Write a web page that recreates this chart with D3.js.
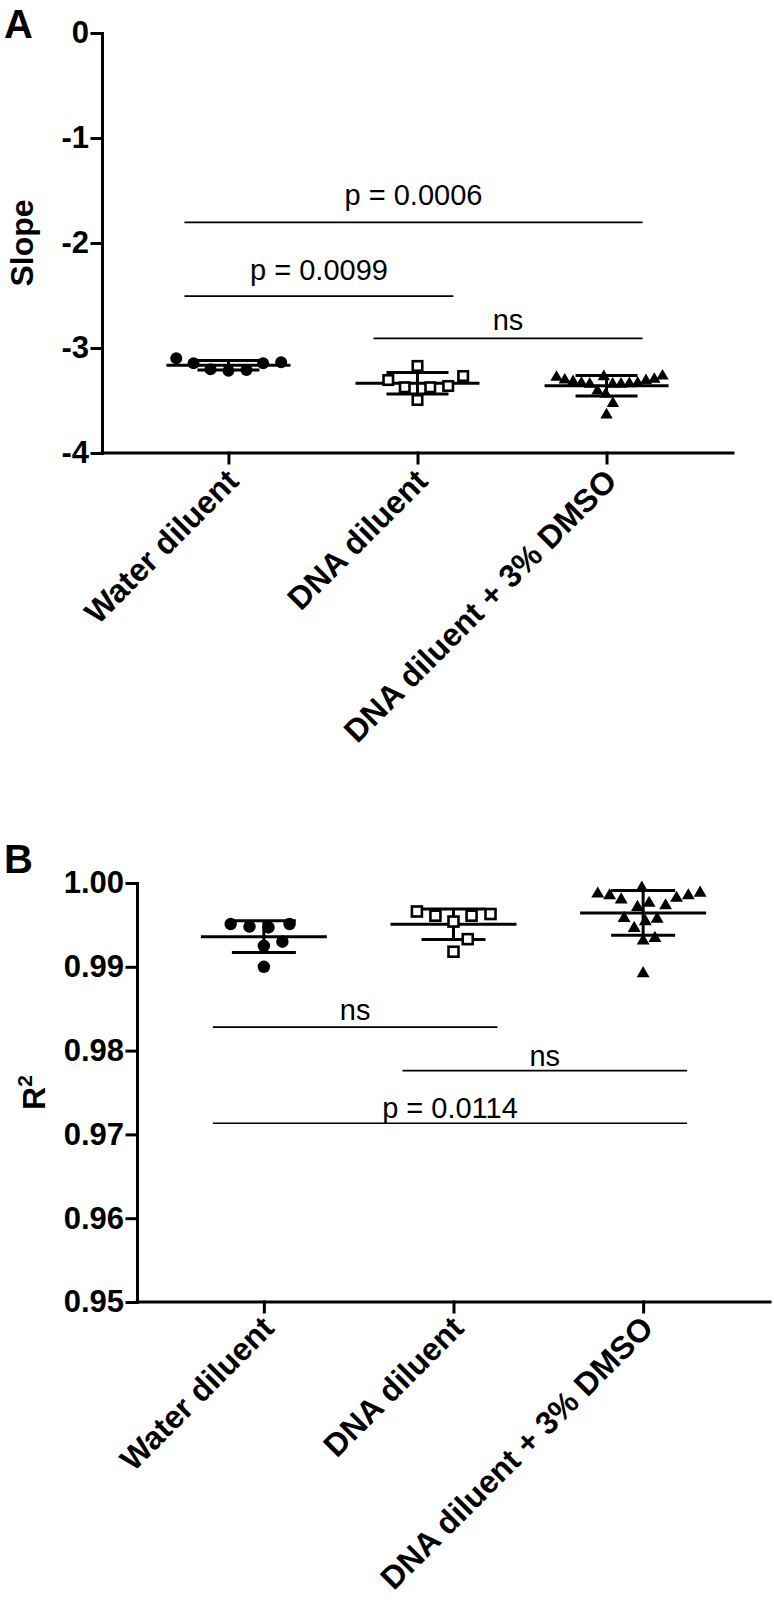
<!DOCTYPE html>
<html>
<head>
<meta charset="utf-8">
<script src="https://cdn.jsdelivr.net/npm/d3@7"></script>
<style>
  body { margin: 0; background: #fff; }
</style>
</head>
<body>
<script>
"use strict";

// categories
var groups = ["Water diluent", "DNA diluent", "DNA diluent + 3% DMSO"];

// panel A : slopes
var slopeWater = [-3.098, -3.146, -3.203, -3.216, -3.210, -3.146, -3.136];
var slopeDna = [-3.374, -3.267, -3.495, -3.305, -3.374, -3.171, -3.362];
var slopeDmso = [-3.279, -3.298, -3.311, -3.321, -3.345, -3.345, -3.335, -3.340, -3.335,
                 -3.345, -3.305, -3.273, -3.267, -3.410, -3.440, -3.527, -3.638];
var slopeTicks = [0, -1, -2, -3, -4];
var slopeComps = [
  { from: 0, to: 2, y: -1.803, labelY: -1.638, label: "p = 0.0006" },
  { from: 0, to: 1, y: -2.505, labelY: -2.352, label: "p = 0.0099" },
  { from: 1, to: 2, y: -2.908, labelY: -2.829, label: "ns" }
];

// panel B : R squared
var r2Water = [0.9951, 0.9947, 0.9948, 0.9951, 0.9930, 0.9925, 0.9900];
var r2Dna = [0.9963, 0.9961, 0.9954, 0.9961, 0.9966, 0.9933, 0.9918];
var r2Dmso = [0.9994, 0.9976, 0.9971, 0.9985, 0.9985, 0.9982, 0.9987, 0.9980, 0.9988,
              0.9973, 0.9954, 0.9957, 0.9958, 0.9946, 0.9934, 0.9931, 0.9892];
var r2Ticks = [1.00, 0.99, 0.98, 0.97, 0.96, 0.95];
var r2Comps = [
  { from: 0, to: 1, y: 0.9828, labelY: 0.98367, label: "ns" },
  { from: 1, to: 2, y: 0.9776, labelY: 0.97817, label: "ns" },
  { from: 0, to: 2, y: 0.97133, labelY: 0.97196, label: "p = 0.0114" }
];

var FONT = "'Liberation Sans', Arial, Helvetica, sans-serif";
var shapes = ["circle", "square", "triangle"];

var svg = d3.select("body").append("svg")
  .attr("width", 774)
  .attr("height", 1606);

/*
 * spread points of one column sideways so they do not sit on each other
 * (simple beeswarm from the lowest point up, then squeezed into the column width)
 */
function dodge(ys, dist, maxHalf) {
  var order = d3.range(ys.length).sort(function (a, b) { return ys[b] - ys[a]; });
  var placed = [], xs = new Array(ys.length);
  order.forEach(function (i) {
    var yy = ys[i];
    var cands = [0];
    placed.forEach(function (p) {
      var dy = Math.abs(p.y - yy);
      if (dy < dist) {
        var dx = Math.sqrt(dist * dist - dy * dy);
        cands.push(p.x + dx, p.x - dx);
      }
    });
    cands.sort(function (a, b) { return Math.abs(a) - Math.abs(b) || b - a; });
    for (var k = 0; k < cands.length; k++) {
      var c = cands[k];
      var ok = placed.every(function (p) {
        return (p.x - c) * (p.x - c) + (p.y - yy) * (p.y - yy) >= dist * dist - 0.01;
      });
      if (ok) { xs[i] = c; placed.push({ x: c, y: yy }); break; }
    }
  });
  var m = d3.max(xs, function (v) { return Math.abs(v); });
  var f = m > maxHalf ? maxHalf / m : 1;
  return xs.map(function (v) { return v * f; });
}

function drawPanel(p) {
  var x = d3.scalePoint().domain(groups).range([p.left, p.right]).padding(0.669);
  var y = d3.scaleLinear().domain(p.domain).range([p.bottom, p.top]);
  var g = svg.append("g");

  // panel letter
  g.append("text")
    .attr("x", 4).attr("y", p.letterY)
    .attr("font-family", FONT).attr("font-weight", "bold").attr("font-size", 40)
    .text(p.letter);

  // y axis
  var ya = g.append("g")
    .attr("transform", "translate(" + p.left + ",0)")
    .call(d3.axisLeft(y).tickValues(p.ticks).tickFormat(p.fmt)
      .tickSize(10).tickSizeOuter(0).tickPadding(3));
  ya.attr("font-family", FONT).attr("font-size", 31).attr("font-weight", "bold");
  ya.selectAll("path, line").attr("stroke", "#000").attr("stroke-width", 3)
    .attr("stroke-linecap", "square");
  ya.selectAll("text").attr("fill", "#000");

  // x axis
  var xa = g.append("g")
    .attr("transform", "translate(0," + p.bottom + ")")
    .call(d3.axisBottom(x).tickSize(10).tickSizeOuter(0).tickFormat(""));
  xa.select(".domain").attr("d", "M" + p.left + ",0H" + p.right);
  xa.selectAll("path, line").attr("stroke", "#000").attr("stroke-width", 3)
    .attr("stroke-linecap", "square");

  // category labels
  g.selectAll(".cat").data(groups).enter().append("text")
    .attr("class", "cat")
    .attr("transform", function (d) {
      return "translate(" + (x(d) + 12) + "," + (p.bottom + p.catDy) + ") rotate(-45)";
    })
    .attr("text-anchor", "end")
    .attr("font-family", FONT).attr("font-weight", "bold").attr("font-size", 32)
    .text(function (d) { return d; });

  // axis title
  var title = g.append("text")
    .attr("transform", "translate(" + p.titleX + "," + (p.top + p.bottom) / 2 + ") rotate(-90)")
    .attr("text-anchor", "middle")
    .attr("font-family", FONT).attr("font-weight", "bold").attr("font-size", 32);
  title.append("tspan").text(p.title);
  if (p.titleSup) {
    title.append("tspan").attr("font-size", 21).attr("dy", -13).text(p.titleSup);
  }

  // comparison lines
  p.comps.forEach(function (c) {
    var x1 = x(groups[c.from]) - p.capL, x2 = x(groups[c.to]) + p.capR;
    g.append("line")
      .attr("x1", x1).attr("x2", x2)
      .attr("y1", y(c.y)).attr("y2", y(c.y))
      .attr("stroke", "#000").attr("stroke-width", 1.7);
    g.append("text")
      .attr("x", (x1 + x2) / 2).attr("y", y(c.labelY))
      .attr("text-anchor", "middle")
      .attr("font-family", FONT).attr("font-size", 29)
      .text(c.label);
  });

  // mean +/- SD bars, then points
  p.series.forEach(function (vals, i) {
    var cx = x(groups[i]);
    var m = d3.mean(vals), s = d3.deviation(vals);
    var bars = g.append("g").attr("stroke", "#000").attr("stroke-width", 3);
    bars.append("line").attr("x1", cx - p.meanHalf).attr("x2", cx + p.meanHalf)
      .attr("y1", y(m)).attr("y2", y(m));
    [m - s, m + s].forEach(function (v) {
      bars.append("line").attr("x1", cx - p.sdHalf).attr("x2", cx + p.sdHalf)
        .attr("y1", y(v)).attr("y2", y(v));
    });
    bars.append("line").attr("x1", cx).attr("x2", cx)
      .attr("y1", y(m - s)).attr("y2", y(m + s));

    var ys = vals.map(function (v) { return y(v); });
    var offs = dodge(ys, p.dodge, p.maxHalf);
    var pts = g.append("g");
    vals.forEach(function (v, j) {
      var px = cx + offs[j], py = ys[j];
      if (shapes[i] === "circle") {
        pts.append("circle").attr("cx", px).attr("cy", py).attr("r", p.size / 2)
          .attr("fill", "#000");
      } else if (shapes[i] === "square") {
        var a = p.size - 2.5;
        pts.append("rect").attr("x", px - a / 2).attr("y", py - a / 2)
          .attr("width", a).attr("height", a)
          .attr("fill", "#fff").attr("stroke", "#000").attr("stroke-width", 2.6);
      } else {
        pts.append("path")
          .attr("transform", "translate(" + px + "," + py + ")")
          .attr("d", d3.symbol(d3.symbolTriangle, p.size * p.size * 0.46)())
          .attr("fill", "#000");
      }
    });
  });
}

drawPanel({
  letter: "A", letterY: 38,
  left: 102, right: 733, top: 33, bottom: 453,
  domain: [-4, 0], ticks: slopeTicks,
  fmt: function (d) { return String(d); },
  title: "Slope", titleX: 33,
  comps: slopeComps, capL: 44, capR: 36,
  series: [slopeWater, slopeDna, slopeDmso],
  meanHalf: 62, sdHalf: 31,
  dodge: 18, maxHalf: 56, size: 12,
  catDy: 30
});

drawPanel({
  letter: "B", letterY: 873,
  left: 137, right: 770, top: 883, bottom: 1302,
  domain: [0.95, 1.00], ticks: r2Ticks,
  fmt: d3.format(".2f"),
  title: "R", titleSup: "2", titleX: 45,
  comps: r2Comps, capL: 51, capR: 44,
  series: [r2Water, r2Dna, r2Dmso],
  meanHalf: 63, sdHalf: 32,
  dodge: 19, maxHalf: 57, size: 12.5,
  catDy: 28
});
</script>
</body>
</html>
